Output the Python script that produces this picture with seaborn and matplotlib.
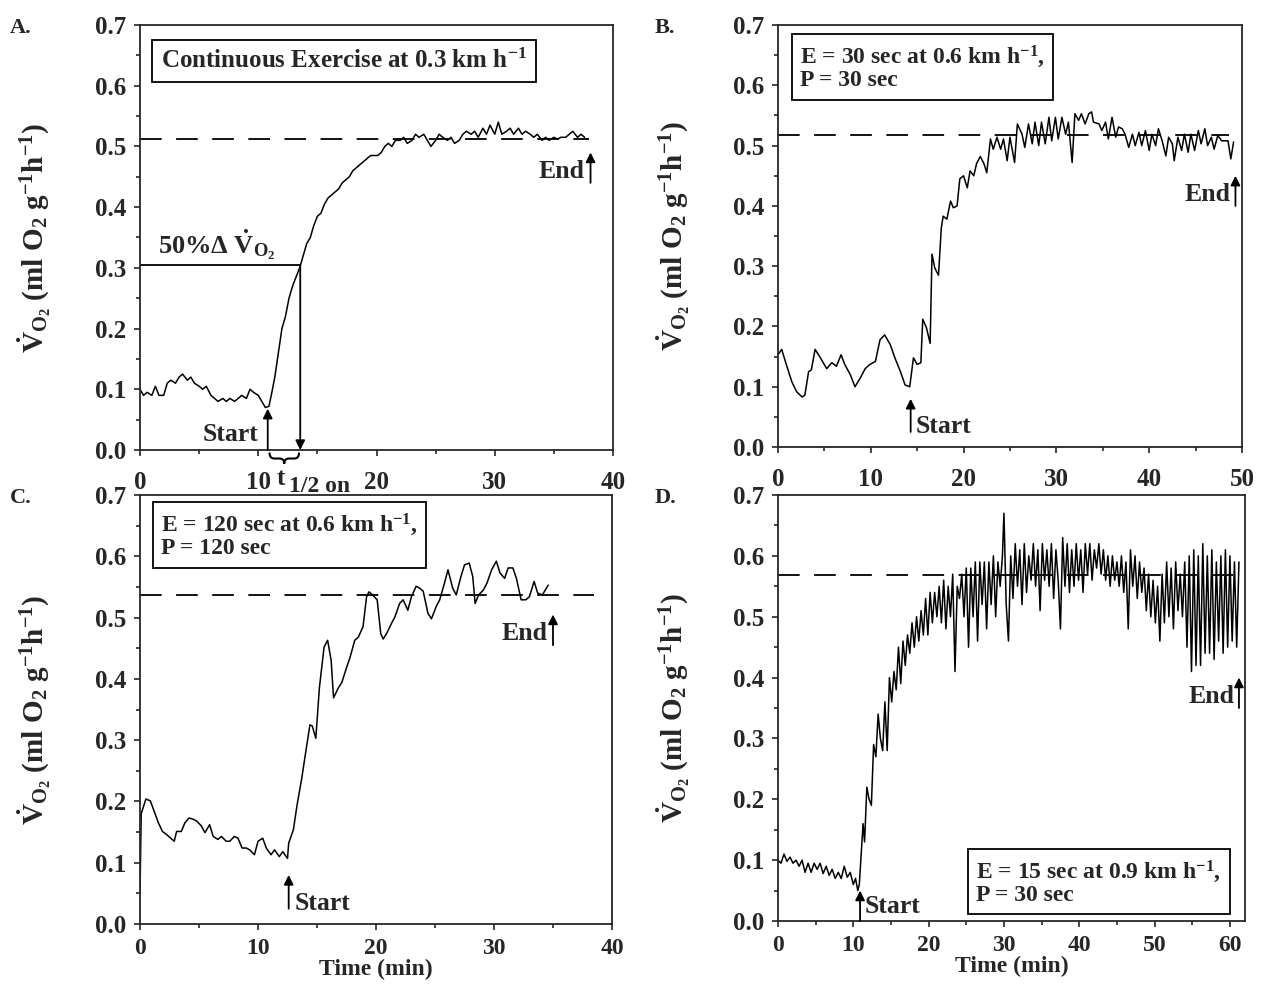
import seaborn as sns
import matplotlib.pyplot as plt
import pandas as pd
import numpy as np
from matplotlib.ticker import MultipleLocator, FormatStrFormatter
from matplotlib.path import Path
from matplotlib.patches import PathPatch
from matplotlib.transforms import blended_transform_factory

sns.set_style("ticks")
plt.rcParams['font.family'] = ['Liberation Serif', 'DejaVu Serif']
plt.rcParams['font.weight'] = 'bold'
plt.rcParams['mathtext.fontset'] = 'custom'
for k in ['rm', 'it', 'bf', 'sf', 'cal', 'tt']:
    plt.rcParams['mathtext.' + k] = 'Liberation Serif:bold'

# ---- Panel A: continuous exercise ----
a_time = [0, 0.3, 0.6, 1.0, 1.3, 1.6, 2.0, 2.3, 2.6, 3.0, 3.3, 3.6, 4.0, 4.3, 4.6, 5.0, 5.3, 5.6,
          6.0, 6.3, 6.6, 7.0, 7.3, 7.6, 8.0, 8.3, 8.6, 9.0, 9.3, 9.6, 10.0, 10.3, 10.6, 10.9, 11.1,
          11.4, 11.7, 12.0, 12.3, 12.6, 12.9, 13.2, 13.5, 13.8, 14.1, 14.4, 14.7, 15.0, 15.3, 15.6,
          15.9, 16.2, 16.5, 16.8, 17.1, 17.4, 17.7, 18.0, 18.3, 18.6, 18.9, 19.2, 19.5, 19.8, 20.1,
          20.4, 20.7, 21.0, 21.3, 21.6, 22.0, 22.3, 22.6, 23.0, 23.3, 23.6, 24.0, 24.3, 24.6, 25.0,
          25.3, 25.6, 26.0, 26.3, 26.6, 27.0, 27.3, 27.6, 28.0, 28.3, 28.6, 29.0, 29.3, 29.6, 30.0,
          30.3, 30.6, 31.0, 31.3, 31.6, 32.0, 32.3, 32.6, 33.0, 33.3, 33.6, 34.0, 34.3, 34.6, 35.0,
          35.3, 35.6, 36.0, 36.3, 36.6, 37.0, 37.3, 37.6]
a_vo2 = [0.100, 0.090, 0.095, 0.090, 0.105, 0.090, 0.090, 0.110, 0.115, 0.110, 0.120, 0.125, 0.115,
         0.120, 0.110, 0.105, 0.100, 0.105, 0.090, 0.085, 0.080, 0.085, 0.080, 0.085, 0.080, 0.085,
         0.090, 0.085, 0.100, 0.095, 0.090, 0.080, 0.070, 0.072, 0.090, 0.120, 0.160, 0.200, 0.220,
         0.250, 0.270, 0.285, 0.300, 0.320, 0.340, 0.350, 0.370, 0.385, 0.390, 0.405, 0.415, 0.420,
         0.425, 0.430, 0.440, 0.445, 0.450, 0.460, 0.465, 0.470, 0.475, 0.480, 0.485, 0.485, 0.485,
         0.490, 0.500, 0.505, 0.500, 0.510, 0.510, 0.515, 0.505, 0.510, 0.520, 0.515, 0.520, 0.510,
         0.500, 0.510, 0.520, 0.515, 0.510, 0.515, 0.505, 0.510, 0.520, 0.525, 0.520, 0.525, 0.515,
         0.530, 0.520, 0.535, 0.520, 0.540, 0.520, 0.525, 0.530, 0.520, 0.530, 0.520, 0.525, 0.520,
         0.515, 0.520, 0.510, 0.515, 0.510, 0.515, 0.512, 0.515, 0.515, 0.520, 0.525, 0.515, 0.520,
         0.515]
a_steady = 0.512

# ---- Panel B: E = 30 s, P = 30 s ----
b_time = [0, 0.4, 0.9, 1.5, 2.0, 2.6, 2.9, 3.3, 3.6, 4.0, 4.5, 5.25, 5.8, 6.3, 6.8, 7.2, 7.8, 8.3,
          8.85, 9.4, 9.9, 10.5, 11.0, 11.5, 12.1, 12.6, 13.2, 13.7, 14.2, 14.6, 15.0, 15.4, 15.6,
          16.0, 16.4, 16.6, 16.9, 17.3, 17.6, 17.8, 18.2, 18.6, 18.9, 19.3, 19.6, 20.0, 20.4, 20.7,
          21.1, 21.4, 21.8, 22.2, 22.5, 22.9, 23.2, 23.6, 24.0, 24.3, 24.7, 25.0, 25.5, 25.8, 26.3,
          26.6, 27.0, 27.4, 27.7, 28.1, 28.4, 28.8, 29.2, 29.5, 29.9, 30.2, 30.6, 31.0, 31.3, 31.7,
          32.0, 32.4, 32.7, 33.1, 33.5, 33.8, 34.0, 34.6, 34.9, 35.3, 35.6, 36.0, 36.4, 36.7, 37.1,
          37.4, 37.8, 38.2, 38.5, 38.9, 39.2, 39.6, 40.0, 40.3, 40.7, 41.0, 41.4, 41.8, 42.1, 42.5,
          42.7, 43.1, 43.5, 43.8, 44.2, 44.5, 44.9, 45.3, 45.6, 46.0, 46.3, 46.7, 47.0, 47.4, 47.8,
          48.1, 48.5, 48.8, 49.1]
b_vo2 = [0.153, 0.162, 0.137, 0.108, 0.092, 0.083, 0.086, 0.125, 0.128, 0.162, 0.150, 0.130, 0.140,
         0.134, 0.153, 0.137, 0.120, 0.100, 0.114, 0.130, 0.137, 0.142, 0.178, 0.186, 0.170, 0.148,
         0.125, 0.103, 0.100, 0.148, 0.137, 0.140, 0.212, 0.198, 0.172, 0.320, 0.297, 0.285, 0.363,
         0.383, 0.378, 0.408, 0.397, 0.400, 0.445, 0.450, 0.430, 0.458, 0.450, 0.470, 0.482, 0.470,
         0.455, 0.511, 0.494, 0.514, 0.494, 0.511, 0.475, 0.514, 0.472, 0.536, 0.519, 0.497, 0.536,
         0.503, 0.539, 0.500, 0.539, 0.503, 0.547, 0.508, 0.547, 0.511, 0.547, 0.519, 0.539, 0.472,
         0.553, 0.542, 0.553, 0.536, 0.553, 0.556, 0.539, 0.536, 0.525, 0.539, 0.511, 0.547, 0.514,
         0.531, 0.528, 0.519, 0.497, 0.519, 0.500, 0.522, 0.500, 0.525, 0.492, 0.519, 0.500, 0.528,
         0.508, 0.483, 0.514, 0.503, 0.475, 0.514, 0.492, 0.519, 0.489, 0.519, 0.492, 0.525, 0.503,
         0.528, 0.500, 0.514, 0.494, 0.517, 0.508, 0.508, 0.508, 0.478, 0.506]
b_steady = 0.518

# ---- Panel C: E = 120 s, P = 120 s ----
c_time = [0, 0.1, 0.5, 0.87, 1.2, 1.56, 1.9, 2.25, 2.6, 2.9, 3.1, 3.5, 3.8, 4.15, 4.5, 4.8, 5.2,
          5.5, 5.9, 6.2, 6.6, 6.9, 7.3, 7.6, 8.0, 8.3, 8.65, 9.0, 9.3, 9.7, 10.0, 10.4, 10.7, 11.1,
          11.4, 11.8, 12.1, 12.5, 12.6, 13.0, 13.3, 13.7, 14.0, 14.4, 14.6, 14.9, 15.2, 15.6, 15.9,
          16.2, 16.4, 16.8, 17.1, 17.5, 17.8, 18.2, 18.5, 18.9, 19.2, 19.4, 19.7, 20.1, 20.4, 20.6,
          20.9, 21.3, 21.6, 22.0, 22.3, 22.7, 23.0, 23.4, 23.7, 24.0, 24.4, 24.7, 25.1, 25.4, 25.8,
          26.1, 26.5, 26.8, 27.2, 27.5, 27.9, 28.2, 28.4, 28.7, 29.1, 29.4, 29.8, 30.2, 30.5, 30.9,
          31.2, 31.6, 31.9, 32.3, 32.7, 33.0, 33.4, 33.7, 34.1, 34.6]
c_vo2 = [0.050, 0.180, 0.204, 0.201, 0.184, 0.165, 0.151, 0.146, 0.140, 0.135, 0.151, 0.151, 0.165,
         0.173, 0.171, 0.168, 0.160, 0.149, 0.162, 0.143, 0.138, 0.143, 0.135, 0.135, 0.143, 0.140,
         0.124, 0.124, 0.121, 0.113, 0.135, 0.140, 0.124, 0.113, 0.121, 0.110, 0.118, 0.107, 0.132,
         0.154, 0.193, 0.237, 0.275, 0.325, 0.323, 0.303, 0.385, 0.452, 0.463, 0.430, 0.369, 0.385,
         0.394, 0.418, 0.435, 0.463, 0.468, 0.485, 0.534, 0.542, 0.537, 0.529, 0.474, 0.465, 0.474,
         0.490, 0.501, 0.523, 0.529, 0.512, 0.534, 0.551, 0.548, 0.543, 0.507, 0.498, 0.518, 0.529,
         0.556, 0.578, 0.548, 0.537, 0.567, 0.586, 0.589, 0.567, 0.523, 0.537, 0.545, 0.556, 0.578,
         0.592, 0.573, 0.564, 0.581, 0.581, 0.564, 0.529, 0.529, 0.534, 0.559, 0.540, 0.537, 0.553]
c_steady = 0.537

# ---- Panel D: E = 15 s, P = 30 s ----
d_time = [0, 0.4, 0.8, 1.2, 1.6, 2.0, 2.4, 2.8, 3.2, 3.6, 4.0, 4.4, 4.8, 5.2, 5.6, 6.0, 6.4, 6.8,
          7.2, 7.6, 8.0, 8.4, 8.8, 9.2, 9.6, 10.0, 10.3, 10.6, 10.8, 11.0, 11.3, 11.5, 11.8, 12.1,
          12.4, 12.7, 13.0, 13.3, 13.6, 13.9, 14.2, 14.5, 14.8, 15.1, 15.4, 15.7, 16.0, 16.3, 16.6,
          16.9, 17.2, 17.5, 17.8, 18.1, 18.4, 18.7, 19.0, 19.3, 19.6, 19.9, 20.2, 20.5, 20.8, 21.1,
          21.4, 21.7, 22.0, 22.3, 22.6, 22.9, 23.2, 23.5, 23.8, 24.1, 24.4, 24.7, 25.0, 25.3, 25.6,
          25.9, 26.2, 26.5, 26.8, 27.1, 27.4, 27.7, 28.0, 28.3, 28.6, 28.9, 29.2, 29.5, 29.8, 30.0,
          30.3, 30.6, 30.9, 31.2, 31.5, 31.8, 32.1, 32.4, 32.7, 33.0, 33.3, 33.6, 33.9, 34.2, 34.5,
          34.8, 35.1, 35.4, 35.7, 36.0, 36.3, 36.6, 36.9, 37.2, 37.5, 37.8, 38.1, 38.4, 38.7, 39.0,
          39.3, 39.6, 39.9, 40.2, 40.5, 40.8, 41.1, 41.4, 41.7, 42.0, 42.3, 42.6, 42.9, 43.2, 43.5,
          43.8, 44.1, 44.4, 44.7, 45.0, 45.3, 45.6, 45.9, 46.2, 46.5, 46.8, 47.1, 47.4, 47.7, 48.0,
          48.3, 48.6, 48.9, 49.2, 49.5, 49.8, 50.1, 50.4, 50.7, 51.0, 51.3, 51.6, 51.9, 52.2, 52.5,
          52.8, 53.1, 53.4, 53.7, 54.0, 54.3, 54.6, 54.9, 55.2, 55.5, 55.8, 56.1, 56.4, 56.7, 57.0,
          57.3, 57.6, 57.9, 58.2, 58.5, 58.8, 59.1, 59.4, 59.7, 60.0, 60.3, 60.6, 60.9, 61.2]
d_vo2 = [0.100, 0.095, 0.110, 0.098, 0.105, 0.095, 0.100, 0.090, 0.100, 0.080, 0.095, 0.080, 0.095,
         0.085, 0.095, 0.078, 0.090, 0.075, 0.085, 0.070, 0.080, 0.070, 0.090, 0.072, 0.080, 0.060,
         0.070, 0.050, 0.060, 0.100, 0.160, 0.130, 0.220, 0.200, 0.190, 0.290, 0.270, 0.340, 0.300,
         0.280, 0.360, 0.280, 0.400, 0.360, 0.410, 0.380, 0.450, 0.390, 0.460, 0.420, 0.470, 0.440,
         0.490, 0.450, 0.500, 0.460, 0.510, 0.470, 0.530, 0.470, 0.540, 0.490, 0.540, 0.500, 0.550,
         0.490, 0.560, 0.480, 0.550, 0.500, 0.570, 0.410, 0.550, 0.530, 0.570, 0.500, 0.580, 0.450,
         0.580, 0.500, 0.590, 0.460, 0.590, 0.520, 0.590, 0.480, 0.590, 0.520, 0.600, 0.500, 0.590,
         0.550, 0.600, 0.670, 0.520, 0.460, 0.600, 0.530, 0.620, 0.550, 0.610, 0.520, 0.620, 0.540,
         0.600, 0.560, 0.620, 0.550, 0.610, 0.510, 0.620, 0.560, 0.610, 0.550, 0.620, 0.530, 0.610,
         0.560, 0.480, 0.630, 0.550, 0.620, 0.540, 0.610, 0.550, 0.620, 0.560, 0.610, 0.540, 0.620,
         0.570, 0.620, 0.560, 0.610, 0.580, 0.620, 0.570, 0.610, 0.560, 0.600, 0.550, 0.600, 0.560,
         0.590, 0.550, 0.600, 0.540, 0.590, 0.480, 0.610, 0.550, 0.600, 0.530, 0.590, 0.540, 0.580,
         0.510, 0.570, 0.500, 0.560, 0.490, 0.550, 0.460, 0.570, 0.490, 0.590, 0.500, 0.580, 0.480,
         0.590, 0.510, 0.570, 0.500, 0.590, 0.450, 0.600, 0.410, 0.610, 0.420, 0.600, 0.420, 0.620,
         0.440, 0.600, 0.440, 0.610, 0.430, 0.590, 0.460, 0.600, 0.440, 0.610, 0.450, 0.600, 0.460,
         0.590, 0.450, 0.590]
d_steady = 0.568

ylab = r'$\dot{\mathrm{V}}_{\mathrm{O_2}}$ (ml O$_2$ g$^{-1}$h$^{-1}$)'
box = dict(boxstyle='square,pad=0.35', fc='white', ec='black', lw=1.3)
arrow = dict(arrowstyle='-|>', color='black', lw=1.3, mutation_scale=14, shrinkA=0, shrinkB=0)
XPAD = 11

fig = plt.figure(figsize=(12.66, 9.91), dpi=100)
axA = fig.add_axes([0.1106, 0.5459, 0.3736, 0.4289])
axB = fig.add_axes([0.6145, 0.5489, 0.3665, 0.4258])
axC = fig.add_axes([0.1106, 0.0676, 0.3728, 0.4329])
axD = fig.add_axes([0.6145, 0.0706, 0.3689, 0.4299])

panels = [(axA, a_time, a_vo2, a_steady, 40, 38.0),
          (axB, b_time, b_vo2, b_steady, 50, 48.6),
          (axC, c_time, c_vo2, c_steady, 40, 38.5),
          (axD, d_time, d_vo2, d_steady, 62, 61.8)]

for ax, t, v, ss, xmax, dash_end in panels:
    df = pd.DataFrame({'Time': t, 'VO2': v})
    sns.lineplot(data=df, x='Time', y='VO2', ax=ax, color='black', lw=1.1, estimator=None)
    ax.plot([0, dash_end], [ss, ss], color='black', lw=1.3, dashes=(12, 8))
    ax.set_xlim(0, xmax)
    ax.set_ylim(0, 0.7)
    ax.xaxis.set_major_locator(MultipleLocator(10))
    ax.xaxis.set_minor_locator(MultipleLocator(5))
    ax.yaxis.set_major_locator(MultipleLocator(0.1))
    ax.yaxis.set_minor_locator(MultipleLocator(0.05))
    ax.yaxis.set_major_formatter(FormatStrFormatter('%.1f'))
    ax.tick_params(which='both', direction='out', top=False, right=False, labelsize=18, width=1.2)
    ax.tick_params(which='major', length=4)
    ax.tick_params(axis='y', which='major', pad=6)
    ax.tick_params(axis='x', which='major', pad=XPAD)
    ax.tick_params(which='minor', length=3)
    for s in ax.spines.values():
        s.set_linewidth(1.3)
        s.set_visible(True)
    ax.set_ylabel(ylab, fontsize=21, fontweight='bold')
    ax.yaxis.set_label_coords(-0.185, 0.5)
    ax.set_xlabel('')

# bottom row: tighter tick labels so the axis title fits above the figure edge
for ax in (axC, axD):
    ax.tick_params(axis='x', which='major', pad=6, labelsize=17)
    ax.set_xlabel('Time (min)', fontsize=17, fontweight='bold', labelpad=0)

# panel A annotations
axA.text(0.431, 0.915, r'Continuous Exercise at 0.3 km h$^{-1}$', transform=axA.transAxes,
         ha='center', va='center', fontsize=18, bbox=box)
axA.plot([0, 13.55], [0.305, 0.305], color='black', lw=1.3)
axA.annotate('', xy=(13.55, 0.0), xytext=(13.55, 0.305), arrowprops=arrow)
axA.text(1.5, 0.31, r'50%$\Delta$ $\dot{\mathrm{V}}_{\mathrm{O_2}}$', fontsize=19, va='bottom')
axA.annotate('', xy=(10.8, 0.068), xytext=(10.8, 0.0), arrowprops=arrow)
axA.text(10.0, 0.007, 'Start', ha='right', va='bottom', fontsize=18.5)
axA.annotate('', xy=(38.1, 0.49), xytext=(38.1, 0.44), arrowprops=arrow)
axA.text(37.6, 0.44, 'End', ha='right', va='bottom', fontsize=18.5)

# curly brace under the axis between start and t1/2
trA = blended_transform_factory(axA.transData, axA.transAxes)
bx0, bx1, bm = 10.95, 13.45, 12.2
by0, by1, by2 = -0.006, -0.02, -0.032
verts = [(bx0, by0), (bx0, by1), (bx0 + 0.4, by1), (bm - 0.4, by1), (bm, by1), (bm, by2),
         (bm, by1), (bm + 0.4, by1), (bx1 - 0.4, by1), (bx1, by1), (bx1, by0)]
codes = [Path.MOVETO, Path.CURVE3, Path.CURVE3, Path.LINETO, Path.CURVE3, Path.CURVE3,
         Path.CURVE3, Path.CURVE3, Path.LINETO, Path.CURVE3, Path.CURVE3]
axA.add_patch(PathPatch(Path(verts, codes), transform=trA, fc='none', ec='black', lw=1.5,
                        clip_on=False))
lab_top = -(4 + XPAD) / 425.0
axA.text(11.55, lab_top - 0.004, 't', ha='left', va='top', fontsize=18, transform=trA, clip_on=False)
axA.text(12.6, lab_top - 0.026, '1/2 on', ha='left', va='top', fontsize=17, transform=trA,
         clip_on=False)

# panel B annotations
axB.text(0.047, 0.955, 'E = 30 sec at 0.6 km h$^{-1}$,\nP = 30 sec', transform=axB.transAxes,
         ha='left', va='top', fontsize=17, bbox=box, linespacing=1.0)
axB.annotate('', xy=(14.3, 0.08), xytext=(14.3, 0.025), arrowprops=arrow)
axB.text(14.8, 0.015, 'Start', ha='left', va='bottom', fontsize=18.5)
axB.annotate('', xy=(49.3, 0.45), xytext=(49.3, 0.40), arrowprops=arrow)
axB.text(48.8, 0.4, 'End', ha='right', va='bottom', fontsize=18.5)

# panel C annotations
axC.text(0.045, 0.96, 'E = 120 sec at 0.6 km h$^{-1}$,\nP = 120 sec', transform=axC.transAxes,
         ha='left', va='top', fontsize=17, bbox=box, linespacing=1.0)
axC.annotate('', xy=(12.6, 0.08), xytext=(12.6, 0.025), arrowprops=arrow)
axC.text(13.1, 0.015, 'Start', ha='left', va='bottom', fontsize=18.5)
axC.annotate('', xy=(35.0, 0.505), xytext=(35.0, 0.455), arrowprops=arrow)
axC.text(34.5, 0.455, 'End', ha='right', va='bottom', fontsize=18.5)

# panel D annotations
axD.text(0.425, 0.035, 'E = 15 sec at 0.9 km h$^{-1}$,\nP = 30 sec', transform=axD.transAxes,
         ha='left', va='bottom', fontsize=17, bbox=box, linespacing=1.0)
axD.annotate('', xy=(10.9, 0.05), xytext=(10.9, 0.0), arrowprops=arrow)
axD.text(11.5, 0.005, 'Start', ha='left', va='bottom', fontsize=18.5)
axD.annotate('', xy=(61.2, 0.40), xytext=(61.2, 0.35), arrowprops=arrow)
axD.text(60.6, 0.35, 'End', ha='right', va='bottom', fontsize=18.5)

for lbl, x, y in [('A.', 0.008, 0.972), ('B.', 0.517, 0.972), ('C.', 0.008, 0.497), ('D.', 0.517, 0.497)]:
    fig.text(x, y, lbl, fontsize=16, fontweight='bold', va='center')

fig.savefig('out.png', dpi=100)
plt.close(fig)
